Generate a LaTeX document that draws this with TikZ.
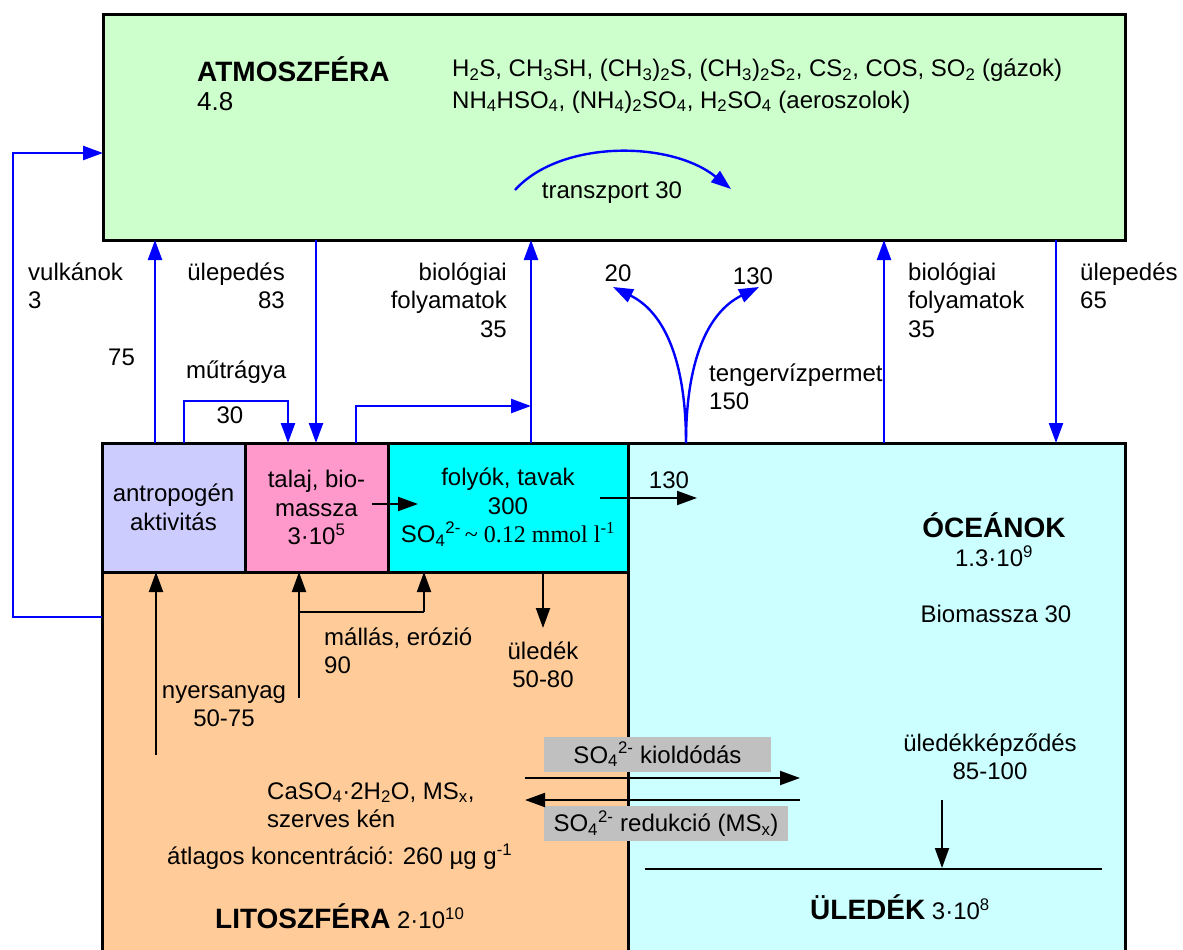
\documentclass[tikz,border=0pt]{standalone}
\usepackage{fontspec}
\setmainfont{Liberation Sans}
\newfontfamily\serifx{Liberation Serif}
\usetikzlibrary{arrows.meta}
\newcommand{\fs}{\fontsize{24}{28.5}\selectfont}
\newcommand{\fb}{\fontsize{28}{32}\selectfont\bfseries}
\newcommand{\sbs}[1]{\textsubscript{#1}}
\newcommand{\sps}[1]{\textsuperscript{#1}}
\definecolor{atmgreen}{HTML}{CCFFCC}
\definecolor{oceancol}{HTML}{CCFFFF}
\definecolor{litocol}{HTML}{FFCC99}
\definecolor{antrocol}{HTML}{CCCCFF}
\definecolor{talajcol}{HTML}{FF99CC}
\definecolor{folycol}{HTML}{00FFFF}
\definecolor{greyc}{HTML}{C0C0C0}
\begin{document}
\begin{tikzpicture}[x=1pt,y=-1pt,
  box/.style={draw=black, line width=3pt, inner sep=0pt, outer sep=0pt, anchor=north west},
  txt/.style={inner sep=0pt, font=\fs, align=center},
  bl/.style={draw=blue, line width=2.4pt, -{Triangle[length=20pt,width=14pt]}},
  bk/.style={draw=black, line width=2pt, -{Triangle[length=20pt,width=14pt]}},
  greybox/.style={fill=greyc, inner sep=0pt, font=\fs}]
\useasboundingbox (0,0) rectangle (1183,950);
\clip (0,0) rectangle (1183,950);
% boxes
\node[box, fill=atmgreen, minimum width=1022pt, minimum height=225pt] (atm) at (103,15) {};
\node[box, fill=oceancol, minimum width=497pt, minimum height=530pt] (ocean) at (628,443) {};
\node[box, fill=litocol, minimum width=526pt, minimum height=400pt] (lito) at (102,572) {};
\node[box, fill=antrocol, minimum width=143pt, minimum height=129pt] (antro) at (102,443) {};
\node[box, fill=talajcol, minimum width=143pt, minimum height=129pt] (talaj) at (245,443) {};
\node[box, fill=folycol, minimum width=240pt, minimum height=129pt] (foly) at (388,443) {};
% grey boxes
\node[greybox, minimum width=227pt, minimum height=35pt] (g1) at (657.5,754.5) {SO\sbs4\sps{2-} kioldódás};
\node[greybox, minimum width=244pt, minimum height=35pt] (g2) at (666,823.5) {SO\sbs4\sps{2-} redukció (MS\sbs x)};
% coordinates
\coordinate (tr1) at (515,190);
\coordinate (tr2) at (731,189);
\coordinate (t20) at (613,287);
\coordinate (t130) at (759,287);
\coordinate (ff) at (531,406);
% blue connectors
\draw[bl] (155,0 |- antro.north) -- (155,0 |- atm.south);
\draw[bl] (184,0 |- antro.north) -- (184,401) -- (288,401) -- (288,0 |- talaj.north);
\draw[bl] (316,0 |- atm.south) -- (316,0 |- talaj.north);
\draw[bl] (356,0 |- talaj.north) -- (356,406) -- (ff);
\draw[bl] (531,0 |- foly.north) -- (531,0 |- atm.south);
\draw[bl] (686,0 |- ocean.north) .. controls (686,360) and (664,312) .. (t20);
\draw[bl] (686,0 |- ocean.north) .. controls (686,360) and (708,312) .. (t130);
\draw[bl] (884,0 |- ocean.north) -- (884,0 |- atm.south);
\draw[bl] (1056,0 |- atm.south) -- (1056,0 |- ocean.north);
\draw[bl] (lito.west |- 0,617) -- (13,617) -- (13,153) -- (atm.west |- 0,153);
\draw[bl] (tr1) .. controls (560,140) and (670,140) .. (tr2);
% black connectors
\draw[bk] (372,504) -- (418,504);
\draw[bk] (600,498) -- (697,498);
\draw[bk] (156,755) -- (156,0 |- lito.north);
\draw[bk] (299,698) -- (299,0 |- lito.north);
\draw[bk, -] (299,612) -- (424,612);
\draw[bk] (424,612) -- (424,0 |- lito.north);
\draw[bk] (543,0 |- lito.north) -- (543,628);
\draw[bk] (525,778) -- (800,778);
\draw[bk] (800,800) -- (525,800);
\draw[bk] (942,800) -- (942,868);
\draw[black, line width=2pt] (645,869) -- (1102,869);
% atmosphere texts
\node[txt, anchor=west] (ATM) at (197,69) {\fb ATMOSZFÉRA};
\node[txt, anchor=west] (atmv) at (197,102) {\fontsize{26}{30}\selectfont 4.8};
\node[txt, anchor=west] (gas) at (452,70) {H\sbs2S, CH\sbs3SH, (CH\sbs3)\sbs2S, (CH\sbs3)\sbs2S\sbs2, CS\sbs2, COS, SO\sbs2 (gázok)};
\node[txt, anchor=west] (aer) at (452,102) {NH\sbs4HSO\sbs4, (NH\sbs4)\sbs2SO\sbs4, H\sbs2SO\sbs4 (aeroszolok)};
\node[txt] (trl) at (612,193) {transzport 30};
% flux labels
\node[txt, align=left, anchor=west] (vulk) at (28,286) {vulkánok\\3};
\node[txt, anchor=west] (n75) at (108,357) {75};
\node[txt, align=right, anchor=east] (ul83) at (285,286) {ülepedés\\83};
\node[txt, anchor=west] (mut) at (186,372) {műtrágya};
\node[txt] (n30) at (230,415) {30};
\node[txt, align=right, anchor=east] (bio1) at (507,300) {biológiai\\folyamatok\\35};
\node[txt] (n20) at (618,273) {20};
\node[txt] (n130a) at (753,276) {130};
\node[txt, align=left, anchor=west] (teng) at (709,387) {tengervízpermet\\150};
\node[txt, align=left, anchor=west] (bio2) at (908,300) {biológiai\\folyamatok\\35};
\node[txt, align=left, anchor=west] (ul65) at (1080,286) {ülepedés\\65};
% box texts
\node[txt] (antrot) at (antro.center) {antropogén\\aktivitás};
\node[txt] (talajt) at (talaj.center) {talaj, bio-\\massza\\3·10\sps5};
\node[txt] (folyt) at (foly.center) {folyók, tavak\\300\\SO\sbs4\sps{2-}{\serifx\,\textasciitilde\ 0.12 mmol l\sps{-1}}};
\node[txt] (n130b) at (669,480) {130};
% ocean texts
\node[txt] (oc1) at (994,525) {\fb ÓCEÁNOK};
\node[txt] (oc2) at (994,556) {1.3·10\sps9};
\node[txt] (bm) at (996,614) {Biomassza 30};
\node[txt] (ulk) at (990,757) {üledékképződés\\85-100};
\node[txt] (uld) at (900,907) {{\fb ÜLEDÉK} 3·10\sps8};
% lithosphere texts
\node[txt, align=left, anchor=west] (mall) at (324,651) {mállás, erózió\\90};
\node[txt] (nyers) at (224,706) {nyersanyag\\50-75};
\node[txt] (uled) at (543,665) {üledék\\50-80};
\node[txt, align=left, anchor=west] (caso) at (267,805) {CaSO\sbs4·2H\sbs2O, MS\sbs x,\\szerves kén};
\node[txt, anchor=west] (atl) at (167,857) {átlagos koncentráció: 260 µg g\sps{-1}};
\node[txt, anchor=west] (lit) at (215,916) {{\fb LITOSZFÉRA} 2·10\sps{10}};
\end{tikzpicture}
\end{document}
